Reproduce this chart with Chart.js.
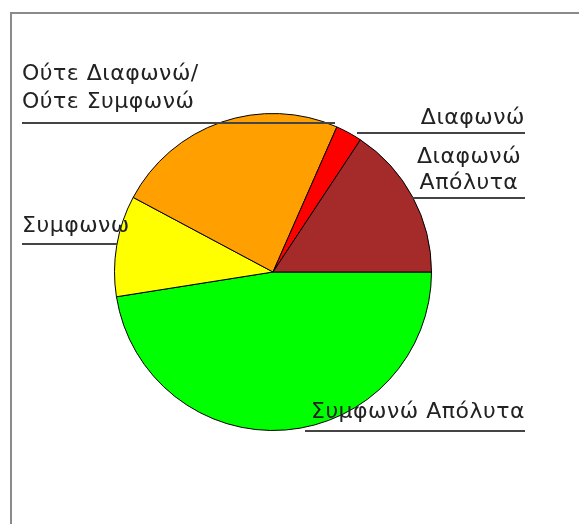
<!DOCTYPE html>
<html>
<head>
<meta charset="utf-8">
<title>Pie</title>
<script src="https://cdn.jsdelivr.net/npm/chart.js@4/dist/chart.umd.min.js"></script>
<style>
	html, body { margin: 0; padding: 0; background: #fff; }
	#wrap { position: relative; width: 579px; height: 524px; }
</style>
</head>
<body>
<div id="wrap"><canvas id="pieChart" width="579" height="524"></canvas></div>
<script>
// Slices, clockwise from 3 o'clock
const categories = [
	["Συμφωνώ Απόλυτα"],
	["Συμφωνω"],
	["Ούτε Διαφωνώ/", "Ούτε Συμφωνώ"],
	["Διαφωνώ"],
	["Διαφωνώ", "Απόλυτα"],
];
const shares = [47.5, 10.3, 23.8, 2.7, 15.7];
const sliceColors = ["#00ff00", "#ffff00", "#ffa000", "#ff0000", "#a52a2a"];

// Where each label sits and the rule drawn under it
const callouts = [
	{ align: "right", x: 525, base: [418], rule: [305, 525, 431] },
	{ align: "left", x: 22, base: [232], rule: [22, 117, 244] },
	{ align: "left", x: 22, base: [80, 108], rule: [22, 335, 123] },
	{ align: "right", x: 525, base: [124], rule: [357, 525, 133] },
	{ align: "center", x: 469, base: [163, 189], rule: [412, 525, 198] },
];

const calloutPlugin = {
	id: "callouts",
	beforeDraw(chart) {
		const ctx = chart.ctx;
		ctx.save();
		ctx.fillStyle = "#fff";
		ctx.fillRect(0, 0, chart.width, chart.height);
		// frame, top and left edges only
		ctx.strokeStyle = "#8a8a8a";
		ctx.lineWidth = 2;
		ctx.beginPath();
		ctx.moveTo(11, chart.height);
		ctx.lineTo(11, 13);
		ctx.lineTo(chart.width, 13);
		ctx.stroke();
		ctx.restore();
	},
	afterDraw(chart) {
		const ctx = chart.ctx;
		const labels = chart.data.labels;
		ctx.save();
		ctx.font = "22px 'DejaVu Sans'";
		ctx.letterSpacing = "0.5px";
		ctx.textBaseline = "alphabetic";
		callouts.forEach(function (c, i) {
			ctx.strokeStyle = "#444";
			ctx.lineWidth = 2;
			ctx.beginPath();
			ctx.moveTo(c.rule[0], c.rule[2]);
			ctx.lineTo(c.rule[1], c.rule[2]);
			ctx.stroke();
			ctx.fillStyle = "#222";
			ctx.textAlign = c.align;
			labels[i].forEach(function (line, j) {
				ctx.fillText(line, c.x, c.base[j]);
			});
		});
		ctx.restore();
	},
};

new Chart(document.getElementById("pieChart"), {
	type: "pie",
	data: {
		labels: categories,
		datasets: [
			{
				data: shares,
				backgroundColor: sliceColors,
				borderColor: "#000",
				borderWidth: 1,
			},
		],
	},
	options: {
		responsive: false,
		animation: false,
		rotation: 90,
		layout: {
			padding: { left: 114, right: 147, top: 113, bottom: 93 },
		},
		plugins: {
			legend: { display: false },
			tooltip: { enabled: false },
		},
	},
	plugins: [calloutPlugin],
});
</script>
</body>
</html>
